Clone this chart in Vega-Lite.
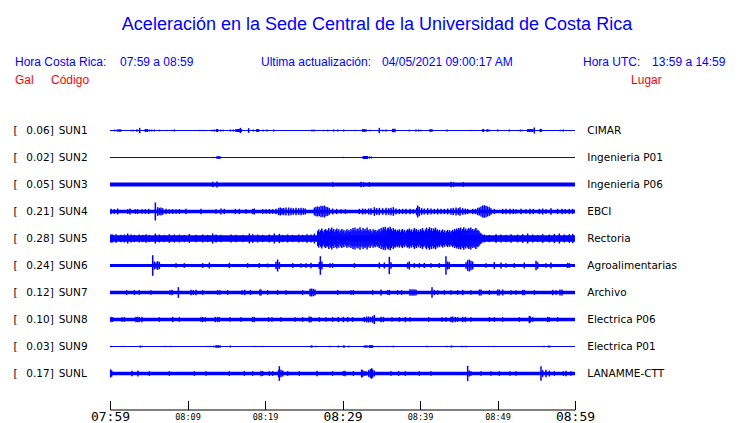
{
"$schema":"https://vega.github.io/schema/vega-lite/v6.json",
"width":465,"height":292.5,
"autosize":{"type":"none"},
"padding":{"left":110,"top":117,"right":165,"bottom":13.5},
"background":"#ffffff",
"title":{"text":"Aceleración en la Sede Central de la Universidad de Costa Rica","font":"Liberation Sans","fontSize":18,"fontWeight":"normal","color":"#0000ff","anchor":"middle","frame":"group","dx":34.5,"baseline":"alphabetic","offset":7.5},
"config":{"view":{"stroke":null},"axisY":{"disable":true}},
"datasets":{"stations":[
{"n":1,"code":"SUN1","gal":0.06,"lugar":"CIMAR","base":0.0115,
"t":[0.56,0.77,1.03,1.2,1.38,2.71,3.01,3.48,3.83,4.56,4.69,4.82,5.08,5.38,5.72,6.37,7.31,7.96,8.3,11.53,11.83,12.17,13.16,13.46,13.76,13.89,14.28,14.62,15.53,15.91,16.26,16.43,16.56,16.69,16.82,16.95,17.89,18.49,18.92,19.05,19.18,19.78,20.26,21.12,26.02,26.19,26.37,27.53,28.09,28.86,29.38,30.15,31.66,32.6,32.73,32.86,33.03,33.55,34.75,35.18,35.61,36.47,36.6,36.77,38.62,39.48,39.83,40.13,41.29,41.42,41.55,43.48,46.67,48.09,48.22,48.65,48.77,49.03,50.02,51.53,52.95,53.16,53.89,54.02,54.15,54.28,54.41,54.54,54.75,55.53,55.66,58.11,58.49],
"a":[0.019,0.015,0.027,0.027,0.027,0.019,0.019,0.027,0.061,0.031,0.031,0.031,0.023,0.023,0.023,0.019,0.015,0.015,0.023,0.015,0.015,0.015,0.019,0.023,0.034,0.034,0.023,0.019,0.023,0.023,0.034,0.034,0.034,0.034,0.061,0.031,0.054,0.023,0.031,0.031,0.031,0.019,0.023,0.023,0.019,0.019,0.019,0.015,0.019,0.023,0.023,0.023,0.015,0.031,0.031,0.031,0.031,0.019,0.061,0.019,0.023,0.038,0.038,0.038,0.019,0.023,0.023,0.015,0.031,0.031,0.031,0.023,0.015,0.031,0.031,0.031,0.031,0.019,0.023,0.023,0.023,0.019,0.031,0.031,0.031,0.031,0.031,0.031,0.069,0.038,0.031,0.019,0.023]},
{"n":2,"code":"SUN2","gal":0.02,"lugar":"Ingenieria P01","base":0.0115,
"t":[13.33,13.81,13.94,14.06,14.19,30.11,32.69,32.82,32.95,33.08,33.2,33.46,33.72],
"a":[0.015,0.031,0.031,0.031,0.031,0.015,0.034,0.034,0.034,0.034,0.034,0.023,0.023]},
{"n":3,"code":"SUN3","gal":0.05,"lugar":"Ingenieria P06","base":0.046,
"t":[13.25,13.81,28.73,32.39,32.73,33.46,44,44.34,45.59],
"a":[0.061,0.069,0.054,0.061,0.054,0.054,0.061,0.054,0.054]},
{"n":4,"code":"SUN4","gal":0.21,"lugar":"EBCI","base":0.042,
"t":[0.13,0.56,0.99,2.28,2.58,3.27,3.57,4.13,4.56,4.99,5.85,6.15,6.37,6.58,6.8,7.23,7.66,8.09,8.52,8.95,9.81,11.74,13.68,14.32,14.75,16.17,16.69,17.55,18.41,18.62,19.7,20.13,20.56,20.99,21.42,21.76,21.98,22.19,22.41,22.71,23.05,23.35,23.66,24,24.34,24.65,24.95,25.2,26.37,26.58,26.8,27.01,27.23,27.44,27.66,27.87,28.09,28.3,28.73,29.25,29.81,30.37,32.17,32.6,32.95,33.38,33.68,34.11,34.41,34.75,35.18,35.61,35.96,36.26,36.56,36.9,37.33,37.76,38.19,38.71,39.14,39.57,39.7,39.91,40.22,40.56,40.99,41.42,41.85,42.28,42.71,43.14,43.57,44,44.3,44.65,44.95,45.16,45.51,45.85,46.15,46.8,47.14,47.44,47.66,47.87,48.09,48.3,48.52,48.73,48.95,49.16,49.59,50.67,51.1,51.61,52.04,52.39,53.03,53.68,54.19,54.62,55.4,55.83,56.26,56.9,57.76,58.32,58.75,59.27,59.7],
"a":[0.061,0.054,0.069,0.054,0.069,0.054,0.054,0.054,0.054,0.061,0.207,0.1,0.084,0.092,0.077,0.061,0.054,0.054,0.054,0.054,0.061,0.061,0.054,0.069,0.061,0.061,0.061,0.054,0.061,0.069,0.054,0.054,0.054,0.054,0.061,0.084,0.092,0.077,0.084,0.092,0.092,0.084,0.077,0.084,0.077,0.084,0.077,0.069,0.092,0.107,0.115,0.107,0.13,0.122,0.138,0.107,0.1,0.077,0.069,0.061,0.054,0.054,0.061,0.069,0.061,0.069,0.077,0.1,0.077,0.084,0.077,0.084,0.077,0.084,0.1,0.069,0.061,0.061,0.061,0.061,0.054,0.084,0.138,0.107,0.077,0.069,0.077,0.069,0.061,0.069,0.061,0.061,0.069,0.077,0.084,0.092,0.077,0.1,0.077,0.069,0.061,0.061,0.061,0.084,0.092,0.115,0.138,0.145,0.13,0.115,0.1,0.077,0.061,0.061,0.061,0.061,0.061,0.054,0.061,0.054,0.061,0.061,0.061,0.069,0.054,0.077,0.061,0.061,0.054,0.061,0.061]},
{"n":5,"code":"SUN5","gal":0.28,"lugar":"Rectoria","base":0.073,
"t":[0.13,0.34,0.77,1.42,1.85,2.28,2.71,3.14,3.78,4.22,4.65,5.08,5.85,6.37,7.01,7.66,8.3,8.95,9.59,10.24,11.1,11.96,12.6,13.25,13.68,14.32,15.61,16.26,17.12,17.98,18.41,19.05,19.7,20.56,21.2,21.85,22.28,22.92,23.57,24.34,24.86,25.42,25.94,26.37,
26.8,26.93,27.06,27.19,27.32,27.45,27.58,27.71,27.84,27.97,28.1,28.23,28.36,28.49,28.62,28.75,28.88,29.01,29.14,29.27,29.4,29.53,29.66,29.79,29.92,30.05,30.18,30.31,30.44,30.57,30.7,30.83,30.96,31.09,31.22,31.35,31.48,31.61,31.74,31.87,32,32.13,32.26,32.39,32.52,32.65,32.78,32.91,33.04,33.17,33.3,33.43,33.56,33.69,33.82,33.95,34.08,34.21,34.34,34.47,34.6,34.73,34.86,34.99,35.12,35.25,35.38,35.51,35.64,35.77,35.9,36.03,36.16,36.29,36.42,36.55,36.68,36.81,36.94,37.07,37.2,37.33,37.46,37.59,37.72,37.85,37.98,38.11,38.24,38.37,38.5,38.63,38.76,38.89,39.02,39.15,39.28,39.41,39.54,39.67,39.8,39.93,40.06,40.19,40.32,40.45,40.58,40.71,40.84,40.97,41.1,41.23,41.36,41.49,41.62,41.75,41.88,42.01,42.14,42.27,42.4,42.53,42.66,42.79,42.92,43.05,43.18,43.31,43.44,43.57,43.7,43.83,43.96,44.09,44.22,44.35,44.48,44.61,44.74,44.87,45,45.13,45.26,45.39,45.52,45.65,45.78,45.91,46.04,46.17,46.3,46.43,46.56,46.69,46.82,46.95,47.08,47.21,47.34,47.47,47.6,47.73,47.86,47.99,
48.3,48.95,49.81,50.45,51.1,51.74,52.6,53.25,53.89,54.54,55.18,55.83,56.69,57.33,57.98,58.62,59.27,59.7],
"a":[0.1,0.092,0.1,0.084,0.092,0.115,0.092,0.084,0.092,0.084,0.1,0.084,0.115,0.092,0.084,0.1,0.092,0.092,0.084,0.1,0.084,0.092,0.084,0.115,0.092,0.084,0.092,0.084,0.084,0.115,0.1,0.092,0.084,0.092,0.115,0.107,0.084,0.092,0.084,0.092,0.084,0.1,0.092,0.115,
0.17,0.21,0.15,0.19,0.23,0.18,0.14,0.2,0.22,0.17,0.19,0.24,0.16,0.21,0.25,0.18,0.22,0.15,0.2,0.23,0.17,0.21,0.14,0.19,0.22,0.16,0.2,0.13,0.18,0.21,0.16,0.2,0.15,0.22,0.18,0.24,0.19,0.25,0.17,0.21,0.23,0.18,0.26,0.2,0.16,0.24,0.19,0.22,0.17,0.25,0.2,0.16,0.22,0.18,0.14,0.21,0.17,0.2,0.15,0.19,0.18,0.22,0.16,0.24,0.19,0.26,0.21,0.27,0.18,0.23,0.25,0.2,0.27,0.22,0.17,0.24,0.19,0.21,0.16,0.2,0.17,0.21,0.15,0.19,0.22,0.16,0.2,0.14,0.18,0.21,0.19,0.23,0.17,0.21,0.15,0.2,0.24,0.18,0.22,0.16,0.2,0.15,0.22,0.18,0.24,0.19,0.16,0.21,0.25,0.18,0.22,0.26,0.19,0.24,0.17,0.23,0.2,0.25,0.18,0.21,0.16,0.2,0.14,0.18,0.21,0.15,0.19,0.13,0.17,0.2,0.15,0.19,0.14,0.17,0.2,0.16,0.22,0.18,0.23,0.19,0.24,0.2,0.25,0.18,0.22,0.26,0.19,0.23,0.17,0.21,0.24,0.2,0.25,0.19,0.22,0.17,0.21,0.24,0.18,0.2,0.17,0.14,0.12,0.1,
0.092,0.084,0.1,0.092,0.084,0.1,0.092,0.1,0.115,0.092,0.084,0.1,0.092,0.107,0.115,0.092,0.1,0.107]},
{"n":6,"code":"SUN6","gal":0.24,"lugar":"Agroalimentarias","base":0.035,
"t":[5.51,5.72,5.94,6.15,6.37,8.52,9.59,11.96,12.82,15.4,17.76,19.27,20.34,21.42,21.63,21.85,23.57,24.65,25.29,25.94,27.01,27.14,27.35,28.39,28.73,31.53,34.75,35.4,36.04,36.26,38.41,38.62,39.27,39.91,40.56,41.42,42.49,43.35,43.57,43.78,45.94,46.15,46.37,46.58,46.8,48.52,49.59,50.45,51.1,52.17,53.46,54.97,55.18,56.26,56.9,59.05,59.27],
"a":[0.237,0.092,0.077,0.1,0.084,0.054,0.054,0.054,0.069,0.061,0.054,0.054,0.046,0.084,0.138,0.077,0.054,0.054,0.054,0.061,0.077,0.214,0.092,0.054,0.054,0.054,0.069,0.069,0.199,0.077,0.069,0.092,0.054,0.054,0.061,0.054,0.054,0.214,0.092,0.077,0.077,0.122,0.138,0.107,0.092,0.054,0.077,0.069,0.054,0.054,0.069,0.107,0.077,0.054,0.069,0.061,0.054]},
{"n":7,"code":"SUN7","gal":0.12,"lugar":"Archivo","base":0.04,
"t":[2.15,3.14,3.78,5.29,7.74,8,8.82,10.45,10.75,11.1,11.96,13.89,14.19,15.18,17.03,17.38,18.11,19.35,19.48,20.34,21.63,22.71,24.86,25.81,26.02,26.24,26.45,29.38,31.1,31.4,33.89,34.97,35.83,36.04,37.12,37.63,38.71,38.97,39.23,39.48,41.55,41.85,42.28,43.14,44,44.86,45.51,46.58,47.66,47.87,48.95,50.02,50.24,50.67,51.74,52.39,53.25,53.46,54.75,57.12,57.55,58.06,58.32],
"a":[0.054,0.054,0.054,0.054,0.054,0.061,0.122,0.061,0.054,0.061,0.054,0.054,0.054,0.054,0.054,0.061,0.054,0.069,0.069,0.054,0.054,0.054,0.054,0.084,0.092,0.084,0.069,0.054,0.054,0.054,0.054,0.069,0.054,0.061,0.054,0.054,0.077,0.077,0.077,0.069,0.122,0.061,0.054,0.054,0.054,0.054,0.061,0.054,0.069,0.069,0.054,0.069,0.069,0.069,0.054,0.054,0.061,0.061,0.054,0.061,0.054,0.069,0.069]},
{"n":8,"code":"SUN8","gal":0.10,"lugar":"Electrica P06","base":0.038,
"t":[0.13,0.34,1.55,1.85,3.35,3.57,3.78,4.13,6.37,8.09,8.95,11.74,11.96,12.3,13.59,13.89,14.11,15.48,16.9,18.41,18.62,20.47,20.9,22.06,23.87,24.86,25.72,25.94,27.01,27.87,28.73,29.46,30.11,30.67,31.31,32.82,33.12,33.38,33.63,33.89,34.11,34.97,35.27,36.39,37.33,38.11,38.71,41.12,42.84,43.35,44,44.22,44.56,44.86,45.51,45.85,46.58,48.95,49.59,50.67,52.82,54.11,54.24,54.54,56.47,56.69,57.76],
"a":[0.061,0.054,0.054,0.054,0.061,0.061,0.061,0.061,0.054,0.061,0.054,0.054,0.061,0.054,0.061,0.061,0.054,0.054,0.054,0.061,0.061,0.054,0.054,0.054,0.054,0.054,0.069,0.061,0.054,0.054,0.054,0.061,0.061,0.061,0.054,0.061,0.069,0.069,0.061,0.077,0.107,0.061,0.061,0.054,0.054,0.061,0.054,0.054,0.054,0.054,0.061,0.069,0.061,0.054,0.061,0.061,0.054,0.054,0.054,0.054,0.054,0.084,0.069,0.054,0.061,0.054,0.054]},
{"n":9,"code":"SUN9","gal":0.03,"lugar":"Electrica P01","base":0.0115,
"t":[0.13,1.72,3.91,4.13,7.14,7.78,12.47,12.9,13.38,13.68,13.81,13.98,14.19,15.53,18.67,19.7,25.94,26.06,26.58,28.39,29.46,30.11,30.24,30.8,32.82,32.95,33.08,33.2,33.46,33.59,33.72,33.89,34.67,35.7,36.56,40.9,43.48,44.04,44.22,45.42,45.94,49.59,56,56.6,56.77],
"a":[0.019,0.015,0.023,0.019,0.015,0.015,0.015,0.015,0.019,0.031,0.031,0.031,0.031,0.023,0.015,0.015,0.023,0.023,0.015,0.019,0.023,0.023,0.023,0.019,0.023,0.023,0.023,0.023,0.031,0.031,0.031,0.031,0.015,0.015,0.019,0.019,0.015,0.023,0.015,0.015,0.015,0.015,0.019,0.023,0.019]},
{"n":10,"code":"SUNL","gal":0.17,"lugar":"LANAMME-CTT","base":0.042,
"t":[0.09,0.22,2.84,3.61,5.08,7.66,10.88,12.39,15.4,17.33,18.41,19.48,19.7,20.56,20.99,21.76,21.85,22.06,22.28,22.92,24.43,26.71,28.73,30.11,30.32,31.4,32.47,32.6,32.82,33.03,33.38,33.59,33.76,33.89,34.11,36.26,37.25,38.11,39.91,41.42,46.15,46.37,46.58,47.87,49.16,50.24,51.61,52.39,55.61,55.83,56.26,56.69,57.33,58.49,58.84,59.48],
"a":[0.092,0.069,0.061,0.069,0.054,0.054,0.054,0.054,0.054,0.054,0.054,0.061,0.054,0.054,0.054,0.084,0.168,0.084,0.069,0.054,0.054,0.061,0.054,0.054,0.061,0.054,0.092,0.077,0.054,0.054,0.077,0.1,0.122,0.092,0.069,0.054,0.054,0.054,0.054,0.054,0.176,0.069,0.054,0.054,0.054,0.054,0.054,0.054,0.168,0.077,0.084,0.069,0.054,0.054,0.061,0.054]}
]},
"layer":[
{"data":{"name":"stations"},
 "mark":{"type":"rule","color":"#0000ff"},
 "encoding":{
  "x":{"datum":0,"type":"quantitative"},
  "x2":{"datum":60},
  "y":{"field":"n","type":"quantitative","scale":{"domain":[0.5,11.3333],"reverse":true,"nice":false,"zero":false},"axis":null},
  "strokeWidth":{"field":"base","type":"quantitative","scale":{"domain":[0,0.31],"range":[0,27]},"legend":null}}},
{"data":{"name":"stations"},
 "transform":[{"flatten":["t","a"]}],
 "mark":{"type":"tick","orient":"vertical","thickness":1.5,"color":"#0000ff","opacity":1},
 "encoding":{
  "x":{"field":"t","type":"quantitative","scale":{"domain":[0,60],"nice":false,"zero":false},
   "axis":{"values":[0,5,10,15,20,25,30,35,40,45,50,55,60],"title":null,"grid":false,"domainColor":"#000000","domainWidth":1,"tickColor":"#000000","tickWidth":1,"tickSize":-9,
    "labelExpr":"datum.value % 10 ? '' : timeFormat(datetime(2021,3,5,7,59+datum.value),'%H:%M')",
    "labelFont":"DejaVu Sans Mono","labelFontSize":{"condition":{"test":"datum.value % 30 == 0","value":13},"value":8.5},
    "labelColor":"#000000","labelBaseline":"middle","labelPadding":15.5,"labelOverlap":false,"labelFlush":false,"labelBound":false}},
  "y":{"field":"n","type":"quantitative","axis":null},
  "size":{"field":"a","type":"quantitative","scale":{"domain":[0,0.31],"range":[0,27]},"legend":null}}},
{"data":{"name":"stations"},
 "mark":{"type":"text","align":"left","baseline":"middle","font":"DejaVu Sans","fontSize":10.5,"color":"#000000"},
 "encoding":{"x":{"datum":-12.45},"y":{"field":"n","type":"quantitative","axis":null},"text":{"value":"["}}},
{"data":{"name":"stations"},
 "mark":{"type":"text","align":"right","baseline":"middle","font":"DejaVu Sans","fontSize":10.5,"color":"#000000"},
 "encoding":{"x":{"datum":-7.79},"y":{"field":"n","type":"quantitative","axis":null},"text":{"field":"gal","type":"quantitative","format":".2f"}}},
{"data":{"name":"stations"},
 "mark":{"type":"text","align":"left","baseline":"middle","font":"DejaVu Sans","fontSize":10.5,"color":"#000000"},
 "encoding":{"x":{"datum":-7.79},"y":{"field":"n","type":"quantitative","axis":null},"text":{"value":"]"}}},
{"data":{"name":"stations"},
 "mark":{"type":"text","align":"left","baseline":"middle","font":"DejaVu Sans","fontSize":10.5,"color":"#000000"},
 "encoding":{"x":{"datum":-6.62},"y":{"field":"n","type":"quantitative","axis":null},"text":{"field":"code"}}},
{"data":{"name":"stations"},
 "mark":{"type":"text","align":"left","baseline":"middle","font":"DejaVu Sans","fontSize":10.5,"color":"#000000"},
 "encoding":{"x":{"datum":61.59},"y":{"field":"n","type":"quantitative","axis":null},"text":{"field":"lugar"}}},
{"data":{"values":[{"txt":"Hora Costa Rica:"}]},
 "mark":{"type":"text","align":"left","baseline":"alphabetic","font":"Liberation Sans","fontSize":12,"color":"#0000ff"},
 "encoding":{"x":{"datum":-12.26},"y":{"datum":-1.4},"text":{"field":"txt"}}},
{"data":{"values":[{"txt":"07:59 a 08:59"}]},
 "mark":{"type":"text","align":"left","baseline":"alphabetic","font":"Liberation Sans","fontSize":12,"color":"#0000ff"},
 "encoding":{"x":{"datum":1.29},"y":{"datum":-1.4},"text":{"field":"txt"}}},
{"data":{"values":[{"txt":"Ultima actualización:"}]},
 "mark":{"type":"text","align":"left","baseline":"alphabetic","font":"Liberation Sans","fontSize":12,"color":"#0000ff"},
 "encoding":{"x":{"datum":19.48},"y":{"datum":-1.4},"text":{"field":"txt"}}},
{"data":{"values":[{"txt":"04/05/2021 09:00:17 AM"}]},
 "mark":{"type":"text","align":"left","baseline":"alphabetic","font":"Liberation Sans","fontSize":12,"color":"#0000ff"},
 "encoding":{"x":{"datum":35.1},"y":{"datum":-1.4},"text":{"field":"txt"}}},
{"data":{"values":[{"txt":"Hora UTC:"}]},
 "mark":{"type":"text","align":"left","baseline":"alphabetic","font":"Liberation Sans","fontSize":12,"color":"#0000ff"},
 "encoding":{"x":{"datum":61.03},"y":{"datum":-1.4},"text":{"field":"txt"}}},
{"data":{"values":[{"txt":"13:59 a 14:59"}]},
 "mark":{"type":"text","align":"left","baseline":"alphabetic","font":"Liberation Sans","fontSize":12,"color":"#0000ff"},
 "encoding":{"x":{"datum":69.94},"y":{"datum":-1.4},"text":{"field":"txt"}}},
{"data":{"values":[{"txt":"Gal"}]},
 "mark":{"type":"text","align":"left","baseline":"alphabetic","font":"Liberation Sans","fontSize":12,"color":"#ff0000"},
 "encoding":{"x":{"datum":-12.26},"y":{"datum":-0.704},"text":{"field":"txt"}}},
{"data":{"values":[{"txt":"Código"}]},
 "mark":{"type":"text","align":"left","baseline":"alphabetic","font":"Liberation Sans","fontSize":12,"color":"#ff0000"},
 "encoding":{"x":{"datum":-7.61},"y":{"datum":-0.704},"text":{"field":"txt"}}},
{"data":{"values":[{"txt":"Lugar"}]},
 "mark":{"type":"text","align":"left","baseline":"alphabetic","font":"Liberation Sans","fontSize":12,"color":"#ff0000"},
 "encoding":{"x":{"datum":67.23},"y":{"datum":-0.704},"text":{"field":"txt"}}}
]
}
